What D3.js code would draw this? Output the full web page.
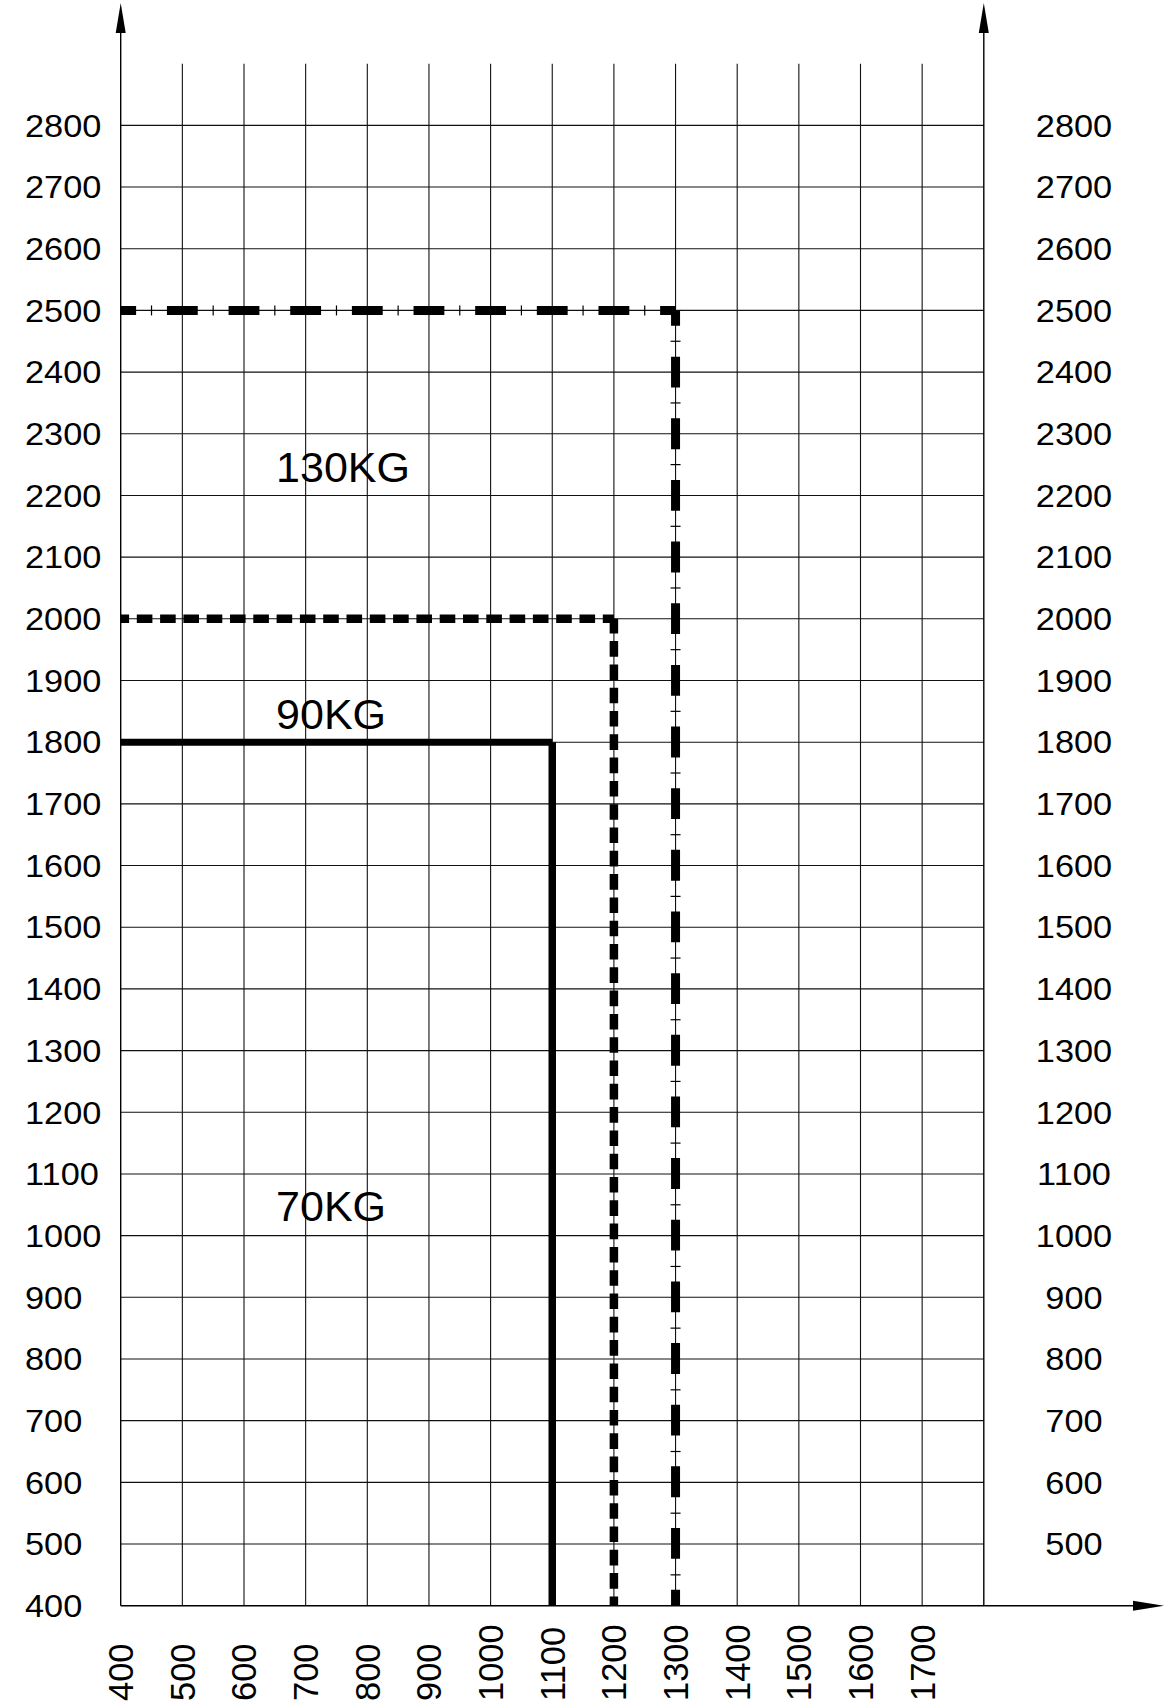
<!DOCTYPE html>
<html>
<head>
<meta charset="utf-8">
<script src="https://cdn.jsdelivr.net/npm/d3@7"></script>
<style>
  html, body { margin: 0; padding: 0; background: #fff; }
  svg { display: block; }
  text { font-family: "Liberation Sans", Arial, sans-serif; fill: #000; }
</style>
</head>
<body>
<svg id="chart" width="1176" height="1708"></svg>
<script>
// ---- data ----
const xTicks = [400, 500, 600, 700, 800, 900, 1000, 1100, 1200, 1300, 1400, 1500, 1600, 1700];
const yTicks = [400, 500, 600, 700, 800, 900, 1000, 1100, 1200, 1300, 1400, 1500, 1600, 1700, 1800, 1900, 2000, 2100, 2200, 2300, 2400, 2500, 2600, 2700, 2800];
const seriesNames  = ["70KG", "90KG", "130KG"];
const seriesWidth  = [1100, 1200, 1300];   // vertical limit (x value)
const seriesHeight = [1800, 2000, 2500];   // horizontal limit (y value)
const labelX = [652, 652, 652];
const labelY = [1024, 1822, 2222];

// ---- layout ----
const svg = d3.select("#chart");
svg.append("rect").attr("width", 1176).attr("height", 1708).attr("fill", "#fff");

const x = d3.scaleLinear().domain([400, 1800]).range([120.7, 983.8]);
const y = d3.scaleLinear().domain([400, 2900]).range([1605.7, 63.7]);
const xMin = 400, xMax = 1800, yMin = 400, yMax = 2900, yGridMax = 2800;

// grid
const grid = svg.append("g").attr("stroke", "#111").attr("stroke-width", 1.1);
grid.selectAll("line.h").data(yTicks.filter(d => d > yMin)).join("line")
  .attr("x1", x(xMin)).attr("x2", x(xMax))
  .attr("y1", d => y(d)).attr("y2", d => y(d));
grid.selectAll("line.v").data(xTicks.filter(d => d > xMin)).join("line")
  .attr("y1", y(yMin)).attr("y2", y(yMax))
  .attr("x1", d => x(d)).attr("x2", d => x(d));

// axes
const ax = svg.append("g").attr("stroke", "#000").attr("stroke-width", 1.4);
[x(xMin), x(xMax)].forEach(px => {
  ax.append("line").attr("x1", px).attr("x2", px).attr("y1", y(yMin)).attr("y2", 30);
  svg.append("path").attr("fill", "#000")
    .attr("d", `M${px},3 L${px - 5},33 L${px + 5},33 Z`);
});
ax.append("line").attr("x1", x(xMin)).attr("x2", 1136).attr("y1", y(yMin)).attr("y2", y(yMin));
svg.append("path").attr("fill", "#000")
  .attr("d", `M1164,${y(yMin)} L1133,${y(yMin) - 5} L1133,${y(yMin) + 5} Z`);

// y labels (left and right)
const yl = svg.append("g").attr("font-size", 31.5);
yl.selectAll("text.l").data(yTicks).join("text")
  .attr("transform", d => `translate(25,${y(d)}) scale(1.09,1)`)
  .attr("dy", "0.358em")
  .attr("text-anchor", "start")
  .text(d => d);
yl.selectAll("text.r").data(yTicks.filter(d => d >= 500)).join("text")
  .attr("class", "r")
  .attr("transform", d => `translate(1074,${y(d)}) scale(1.09,1)`)
  .attr("dy", "0.358em")
  .attr("text-anchor", "middle")
  .text(d => d);

// x labels (rotated)
svg.append("g").attr("font-size", 34.5)
  .selectAll("text").data(xTicks).join("text")
  .attr("transform", d => `translate(${x(d)},1701) rotate(-90)`)
  .attr("dy", "0.358em")
  .attr("text-anchor", "start")
  .text(d => d);

// limit lines
const line = d3.line().x(d => x(d[0])).y(d => y(d[1]));
const lines = svg.append("g").attr("fill", "none").attr("stroke", "#000").attr("stroke-linecap", "butt");

// 70KG solid
lines.append("path").attr("stroke-width", 7)
  .attr("d", line([[xMin, seriesHeight[0]], [seriesWidth[0], seriesHeight[0]]]));
lines.append("path").attr("stroke-width", 7.5)
  .attr("d", line([[seriesWidth[0], seriesHeight[0]], [seriesWidth[0], yMin]]));

// 90KG dashed
lines.append("path").attr("stroke-width", 8.5).attr("stroke-dasharray", "15.6 7.7").attr("stroke-dashoffset", 4.5)
  .attr("d", line([[seriesWidth[1], seriesHeight[1]], [xMin, seriesHeight[1]]]));
lines.append("path").attr("stroke-width", 8.5).attr("stroke-dasharray", "15.6 7.7").attr("stroke-dashoffset", 1)
  .attr("d", line([[seriesWidth[1], seriesHeight[1]], [seriesWidth[1], yMin]]));

// 130KG dash-dot (long dashes centred on grid lines, ticks in between)
const p = x(500) - x(400);
lines.append("path").attr("stroke-width", 9).attr("stroke-dasharray", `${p / 2} ${p / 2}`).attr("stroke-dashoffset", p / 4)
  .attr("d", line([[xMin, seriesHeight[2]], [seriesWidth[2], seriesHeight[2]]]));
lines.append("path").attr("stroke-width", 9).attr("stroke-dasharray", `${p / 2} ${p / 2}`).attr("stroke-dashoffset", p / 4)
  .attr("d", line([[seriesWidth[2], seriesHeight[2]], [seriesWidth[2], yMin]]));
const tk = svg.append("g").attr("stroke", "#000").attr("stroke-width", 1.2);
tk.selectAll("line.th").data(d3.range(xMin + 50, seriesWidth[2], 100)).join("line")
  .attr("x1", d => x(d)).attr("x2", d => x(d))
  .attr("y1", y(seriesHeight[2]) - 5).attr("y2", y(seriesHeight[2]) + 5);
tk.selectAll("line.tv").data(d3.range(yMin + 50, seriesHeight[2], 100)).join("line")
  .attr("class", "tv")
  .attr("y1", d => y(d)).attr("y2", d => y(d))
  .attr("x1", x(seriesWidth[2]) - 5).attr("x2", x(seriesWidth[2]) + 5);

// series labels
svg.append("g").attr("font-size", 43)
  .selectAll("text").data(seriesNames).join("text")
  .attr("x", (d, i) => x(labelX[i]))
  .attr("y", (d, i) => y(labelY[i]))
  .text(d => d);
</script>
</body>
</html>
